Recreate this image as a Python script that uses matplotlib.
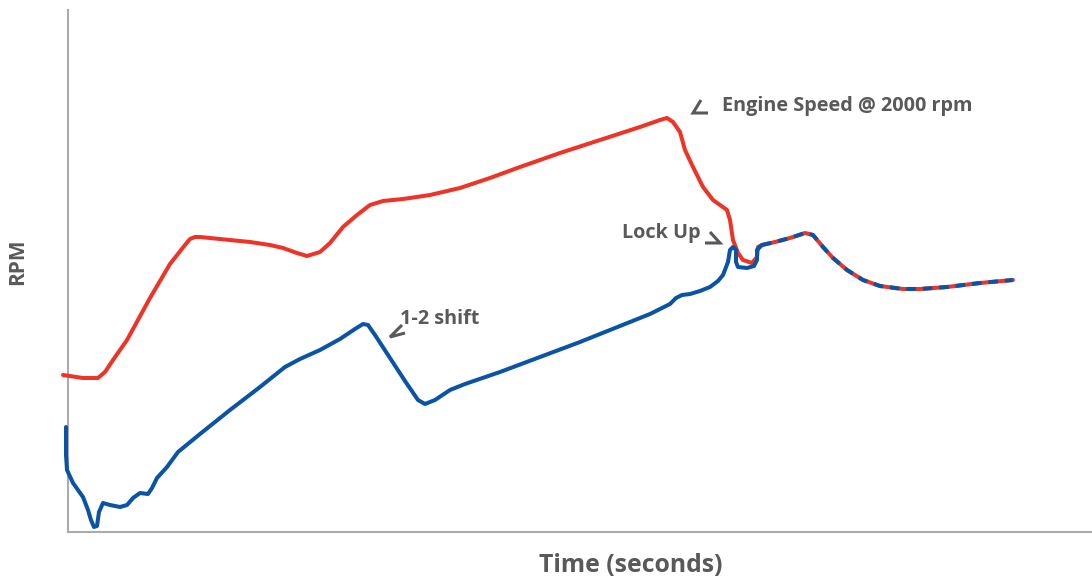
import matplotlib
matplotlib.use("Agg")
import matplotlib.pyplot as plt

# ---- data (time in s, speed in rpm) ----
engine_t = [-0.05, 0.15, 0.30, 0.37, 0.45, 0.59, 0.82, 1.02, 1.17, 1.22, 1.27, 1.32, 1.52, 1.82, 2.02,
            2.15, 2.29, 2.39, 2.52, 2.62, 2.75, 2.89, 3.02, 3.15, 3.35, 3.62, 3.92, 4.22, 4.52, 4.92,
            5.32, 5.72, 5.92, 5.99, 6.05, 6.12, 6.17, 6.25, 6.35, 6.45, 6.59, 6.62, 6.65, 6.70, 6.75,
            6.84, 6.89, 6.90, 6.94]
engine_rpm = [785, 770, 770, 800, 860, 960, 1170, 1340, 1435, 1465, 1475, 1475, 1465, 1450, 1435,
              1420, 1395, 1380, 1400, 1445, 1525, 1585, 1635, 1655, 1665, 1685, 1720, 1770, 1825, 1895,
              1960, 2025, 2060, 2070, 2050, 2000, 1910, 1825, 1725, 1660, 1610, 1560, 1460, 1395, 1360,
              1345, 1375, 1425, 1435]

turbine_t = [-0.02, -0.02, -0.01, 0.05, 0.15, 0.20, 0.23, 0.26, 0.29, 0.31, 0.35, 0.42, 0.52, 0.59,
             0.65, 0.72, 0.80, 0.84, 0.89, 0.99, 1.10, 1.32, 1.62, 1.92, 2.17, 2.32, 2.52, 2.72, 2.87,
             2.95, 3.00, 3.07, 3.22, 3.37, 3.50, 3.57, 3.67, 3.82, 3.97, 4.32, 4.72, 5.12, 5.52, 5.82,
             6.02, 6.08, 6.14, 6.22, 6.32, 6.42, 6.50, 6.55, 6.60, 6.62, 6.65, 6.68, 6.68, 6.70, 6.79,
             6.86, 6.89, 6.89, 6.92, 6.94]
turbine_rpm = [525, 385, 310, 245, 175, 110, 60, 25, 30, 100, 145, 135, 125, 135, 170, 195, 190, 220,
               270, 325, 400, 490, 610, 725, 825, 865, 910, 965, 1015, 1040, 1035, 985, 870, 755, 660,
               640, 660, 710, 740, 800, 875, 950, 1030, 1090, 1140, 1170, 1185, 1190, 1205, 1225, 1255,
               1285, 1350, 1410, 1425, 1410, 1350, 1325, 1320, 1330, 1360, 1410, 1425, 1435]

locked_t = [6.94, 7.07, 7.22, 7.37, 7.45, 7.55, 7.65, 7.79, 7.95, 8.12, 8.35, 8.52, 8.79, 9.12, 9.45]
locked_rpm = [1435, 1450, 1470, 1495, 1485, 1425, 1370, 1310, 1260, 1230, 1215, 1215, 1225, 1245, 1260]

labels = ["Engine Speed @ 2000 rpm", "Lock Up", "1-2 shift"]
label_t = [6.54, 5.54, 3.32]
label_rpm = [2130, 1495, 1065]
chevron_t = [[6.33, 6.25, 6.40], [6.42, 6.52, 6.37], [3.34, 3.22, 3.37]]
chevron_rpm = [[2160, 2095, 2095], [1500, 1445, 1445], [1035, 975, 995]]

RED = "#EE3427"
BLUE = "#0B54A5"
GRAY = "#595959"
FONT = "Open Sans"

fig = plt.figure(figsize=(10.92, 5.82), dpi=100)
ax = fig.add_axes([68 / 1092, 50 / 582, 1024 / 1092, 522 / 582])
ax.set_xlim(0, 10.24)
ax.set_ylim(0, 2610)

for s in ["top", "right"]:
    ax.spines[s].set_visible(False)
for s in ["left", "bottom"]:
    ax.spines[s].set_color("#ABABAB")
    ax.spines[s].set_linewidth(1.5)
ax.set_xticks([])
ax.set_yticks([])

lw = 2.9
ax.plot(engine_t, engine_rpm, color=RED, lw=lw, solid_joinstyle="round", solid_capstyle="round",
        clip_on=False, zorder=3)
ax.plot(turbine_t, turbine_rpm, color=BLUE, lw=lw, solid_joinstyle="round", solid_capstyle="round",
        clip_on=False, zorder=4)
ax.plot(locked_t, locked_rpm, color=RED, lw=lw, solid_joinstyle="round", solid_capstyle="round",
        zorder=3)
ax.plot(locked_t, locked_rpm, color=BLUE, lw=lw, dashes=(2.4, 1.7), dash_capstyle="butt",
        dash_joinstyle="round", zorder=4)

for txt, tx, ty in zip(labels, label_t, label_rpm):
    ax.text(tx, ty, txt, ha="left", va="center", fontsize=14.3, fontweight="bold",
            color=GRAY, family=FONT)
for ct, cr in zip(chevron_t, chevron_rpm):
    ax.plot(ct, cr, color=GRAY, lw=2.2, solid_joinstyle="miter", solid_capstyle="butt", zorder=5)

fig.text(631 / 1092, 1 - 566 / 582, "Time (seconds)", ha="center", va="center", fontsize=17.8,
         fontweight="bold", color=GRAY, family=FONT)
fig.text(18 / 1092, 1 - 262 / 582, "RPM", ha="center", va="center", rotation=90, fontsize=15,
         fontweight="bold", color=GRAY, family=FONT)

fig.savefig("out.png", dpi=100)
